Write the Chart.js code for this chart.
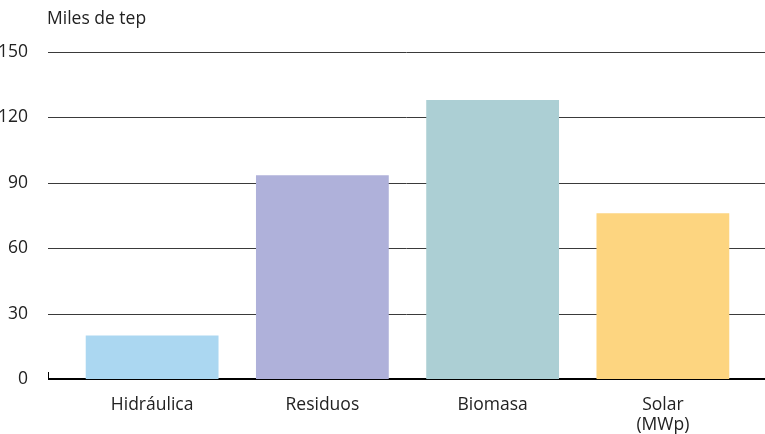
<!DOCTYPE html>
<html>
<head>
<meta charset="utf-8">
<script src="https://cdn.jsdelivr.net/npm/chart.js@4"></script>
<style>
  html, body { margin: 0; padding: 0; background: #fff; }
  #wrap { width: 765px; height: 434px; }
</style>
</head>
<body>
<div id="wrap"><canvas id="plot"></canvas></div>
<script>
const categories = ['Hidráulica', 'Residuos', 'Biomasa', ['Solar', '(MWp)']];
const values = [20, 93.5, 128, 76];
const barColors = ['#abd7f1', '#afb1da', '#accfd4', '#fdd580'];
const yTicks = [0, 30, 60, 90, 120, 150];
const unitLabel = 'Miles de tep';

const FONT = "'Open Sans', 'Liberation Sans', sans-serif";

// grid lines wider than the bar area, plus the heavier zero line
const gridPlugin = {
  id: 'gridPlugin',
  beforeDatasetsDraw(chart) {
    const ctx = chart.ctx, y = chart.scales.y;
    const x0 = 48, x1 = 765;
    ctx.save();
    yTicks.forEach(v => {
      const py = Math.round(y.getPixelForValue(v));
      ctx.beginPath();
      if (v === 0) {
        ctx.lineWidth = 2;
        ctx.strokeStyle = '#000';
        ctx.moveTo(x0, py);
        ctx.lineTo(x1, py);
      } else {
        ctx.lineWidth = 1;
        ctx.strokeStyle = '#3a3a3a';
        ctx.moveTo(x0, py + 0.5);
        ctx.lineTo(x1, py + 0.5);
      }
      ctx.stroke();
    });
    const p0 = Math.round(y.getPixelForValue(0));
    ctx.beginPath();
    ctx.lineWidth = 1;
    ctx.strokeStyle = '#000';
    ctx.moveTo(48.5, p0 - 7);
    ctx.lineTo(48.5, p0);
    ctx.stroke();
    ctx.restore();
  },
  afterDraw(chart) {
    const ctx = chart.ctx;
    ctx.save();
    ctx.font = '17.5px ' + FONT;
    ctx.fillStyle = '#222';
    ctx.textBaseline = 'middle';
    ctx.fillText(unitLabel, 47, 19);
    ctx.restore();
  }
};

const data = {
  labels: categories,
  datasets: [{
    data: values,
    backgroundColor: barColors,
    borderWidth: 0,
    categoryPercentage: 0.78,
    barPercentage: 1
  }]
};

const config = {
  type: 'bar',
  data: data,
  options: {
    responsive: true,
    maintainAspectRatio: false,
    animation: false,
    layout: { padding: { top: 52, right: 17, left: 0, bottom: 0 } },
    plugins: { legend: { display: false }, tooltip: { enabled: false } },
    scales: {
      x: {
        grid: { display: false },
        border: { display: false },
        ticks: { color: '#222', font: { family: FONT, size: 17.5, lineHeight: 1.15 }, padding: 8, maxRotation: 0 },
        afterFit(s) { s.height = 55; }
      },
      y: {
        min: 0,
        max: 150,
        afterBuildTicks(s) { s.ticks = yTicks.map(v => ({ value: v })); },
        grid: { display: false },
        border: { display: false },
        ticks: { color: '#222', font: { family: FONT, size: 17.5 }, padding: 31 },
        afterFit(s) { s.width = 67; }
      }
    }
  },
  plugins: [gridPlugin]
};

let ctx = document.getElementById('plot').getContext('2d');
let chart = new Chart(ctx, config);
</script>
</body>
</html>
